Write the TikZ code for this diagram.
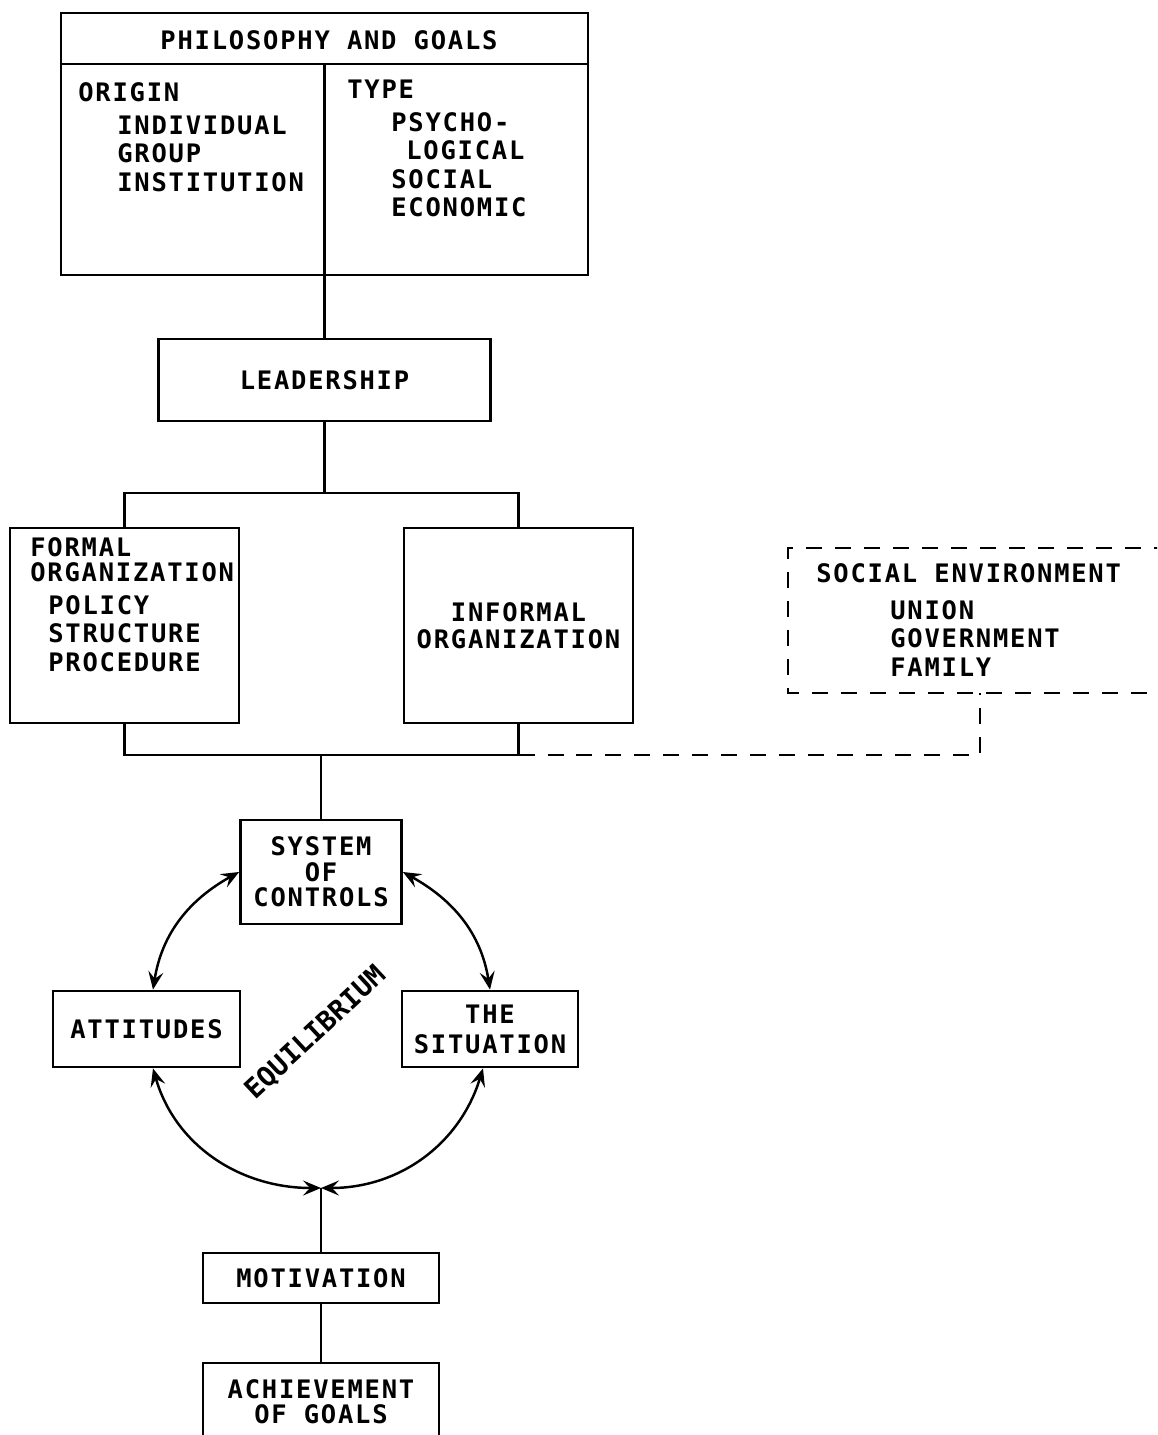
\documentclass[tikz,border=0pt]{standalone}
\usepackage{fontspec}
\newfontfamily\leroy[LetterSpace=7]{DejaVu Sans Mono Bold}
\newfontfamily\leroyplain{DejaVu Sans Mono Bold}
\usetikzlibrary{arrows.meta}

\begin{document}
\begin{tikzpicture}[x=0.02cm, y=0.02cm]
\tikzstyle{every node}+=[inner sep=0pt, font=\leroy\fontsize{14.5}{16.2}\selectfont]
\tikzstyle{box}=[draw, line width=1.6pt, align=center]
\tikzstyle{link}=[line width=1.5pt]
\tikzstyle{dashline}=[line width=1.6pt, dash pattern=on 0.32cm off 0.26cm]
\tikzstyle{recip}=[line width=1.4pt, {Stealth[length=0.36cm,width=0.3cm,inset=0.14cm]}-{Stealth[length=0.36cm,width=0.3cm,inset=0.14cm]}]
\useasboundingbox (0,0) rectangle (1157,-1435);
\clip (0,0) rectangle (1157,-1435);
% philosophy and goals
\node [box, minimum width=10.54cm, minimum height=5.24cm] (phil) at (324.5,-144) {};
\coordinate (philhead) at (324.5,-64);
\draw [link] (phil.west |- philhead) -- (phil.east |- philhead);
\draw [link] (philhead) -- (phil.south);
\node (philtitle) at (329,-40) {PHILOSOPHY AND GOALS};
\node [anchor=west] (origin) at (78,-92) {ORIGIN};
\node [anchor=west, align=left] (originlist) at (117,-153.5) {INDIVIDUAL\\GROUP\\INSTITUTION};
\node [anchor=west] (type) at (347,-89) {TYPE};
\node [anchor=west, align=left] (typelist) at (391,-164.5) {PSYCHO-\\\hspace*{0.3cm}LOGICAL\\SOCIAL\\ECONOMIC};
% leadership and organization
\node [box, minimum width=6.64cm, minimum height=1.64cm] (lead) at (324.5,-380) {LEADERSHIP};
\draw [link] (phil.south) -- (lead.north);
\coordinate (tbar) at (0,-493);
\coordinate (bbar) at (0,-755);
\node [box, minimum width=4.58cm, minimum height=3.9cm] (formal) at (124.5,-625.5) {};
\node [anchor=west, align=left] (formaltitle) at (30,-559.5) {FORMAL\\[-2pt]ORGANIZATION};
\node [anchor=west, align=left] (formallist) at (48,-633.5) {POLICY\\STRUCTURE\\PROCEDURE};
\node [box, minimum width=4.58cm, minimum height=3.9cm] (informal) at (518.5,-625.5) {INFORMAL\\[-0.8pt]ORGANIZATION};
\draw [link] (lead.south) -- (lead.south |- tbar);
\draw [link] (formal.north) |- (informal.north |- tbar) -- (informal.north);
\draw [link] (formal.south) |- (informal.south |- bbar) -- (informal.south);
% social environment
\coordinate (envnw) at (788,-548);
\coordinate (envsw) at (788,-693);
\coordinate (envjoin) at (980,-693);
\draw [dashline] (1170,-548) -- (envnw) -- (envsw) -- (1170,-693);
\node [anchor=west] (envtitle) at (816,-573) {SOCIAL ENVIRONMENT};
\node [anchor=west, align=left] (envlist) at (890,-638.5) {UNION\\GOVERNMENT\\FAMILY};
\draw [dashline] (informal.south |- bbar) -- (envjoin |- bbar) -- (envjoin);
% equilibrium
\node [box, minimum width=3.22cm, minimum height=2.08cm] (soc) at (321,-872) {SYSTEM\\[-1.7pt]OF\\[-1.7pt]CONTROLS};
\draw [link] (soc.north) -- (soc.north |- bbar);
\node [box, minimum width=3.74cm, minimum height=1.52cm] (att) at (146.5,-1029) {ATTITUDES};
\node [box, minimum width=3.52cm, minimum height=1.52cm] (sit) at (490,-1029) {THE\\[0.8pt]SITUATION};
\coordinate (meet) at (321,-1188);
\node [rotate=43, font=\leroyplain\fontsize{15.5}{16}\selectfont] (equil) at (316,-1033) {EQUILIBRIUM};
\draw [recip] (soc.west) to[out=209, in=81] ([xshift=0.13cm]att.north);
\draw [recip] (soc.east) to[out=-29, in=99] (sit.north);
\draw [recip] ([xshift=0.13cm]att.south) to[out=-74, in=180] (meet);
\draw [recip] ([xshift=-0.14cm]sit.south) to[out=253, in=0] (meet);
% motivation
\node [box, minimum width=4.72cm, minimum height=1cm] (motiv) at (321,-1278) {MOTIVATION};
\node [box, minimum width=4.72cm, minimum height=1.54cm] (achieve) at (321,-1401.5) {ACHIEVEMENT\\[-2pt]OF GOALS};
\draw [link] (motiv.north) -- (meet);
\draw [link] (motiv.south) -- (achieve.north);
\end{tikzpicture}
\end{document}
